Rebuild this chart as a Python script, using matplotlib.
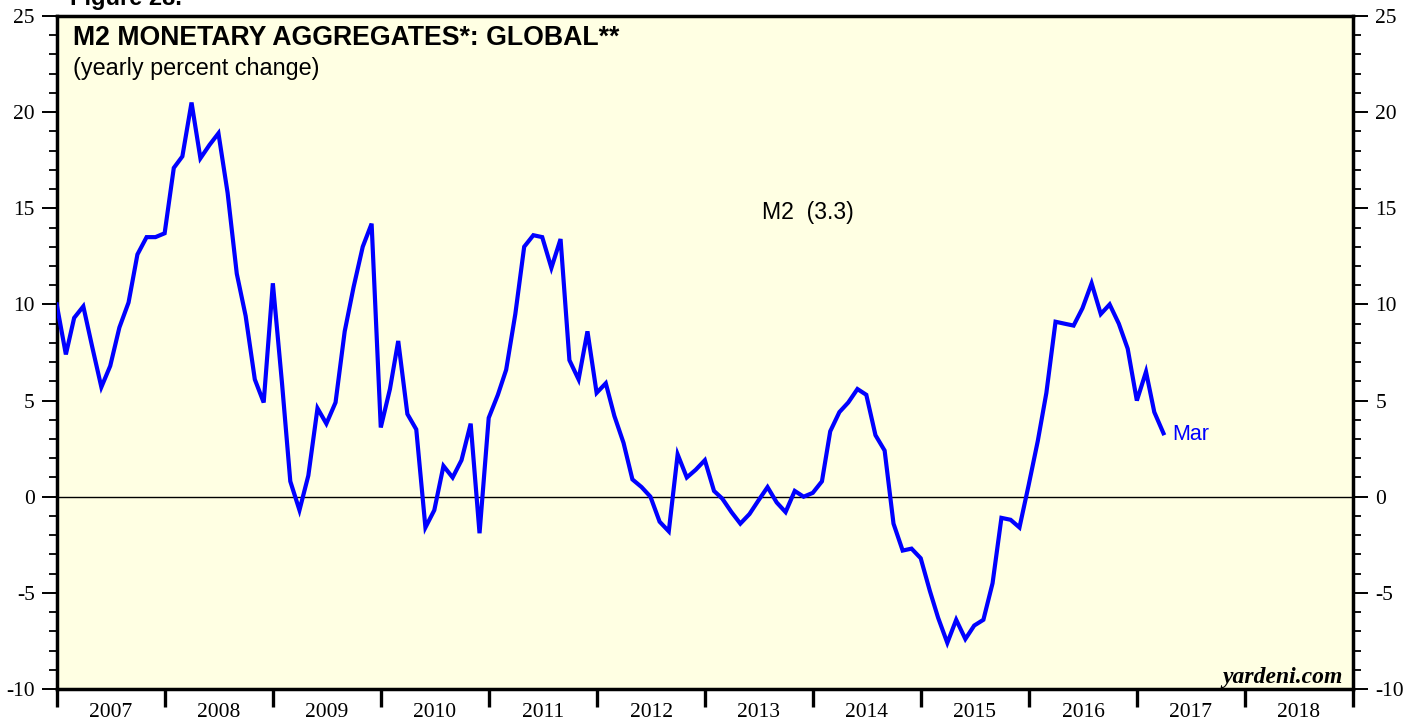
import matplotlib
matplotlib.use("Agg")
import matplotlib.pyplot as plt
import matplotlib.dates as mdates
from matplotlib.ticker import MultipleLocator, FixedLocator, NullFormatter
import pandas as pd
import datetime as dt

plt.rcParams["axes.unicode_minus"] = False

# Monthly M2 yearly percent change, Dec 2006 .. Mar 2017 (month-end)
m2_values = [
    10.0, 7.4, 9.3, 9.9, 7.8, 5.7, 6.8, 8.8, 10.1, 12.6, 13.5, 13.5,
    13.7, 17.1, 17.7, 20.5, 17.6, 18.3, 18.9, 15.8, 11.6, 9.4, 6.1, 4.9,
    11.1, 5.9, 0.8, -0.7, 1.1, 4.6, 3.8, 4.9, 8.6, 10.9, 13.0, 14.2,
    3.6, 5.6, 8.1, 4.3, 3.5, -1.6, -0.7, 1.6, 1.0, 1.9, 3.8, -1.9,
    4.1, 5.3, 6.6, 9.5, 13.0, 13.6, 13.5, 11.9, 13.4, 7.1, 6.1, 8.6,
    5.4, 5.9, 4.2, 2.8, 0.9, 0.5, 0.0, -1.3, -1.8, 2.2, 1.0, 1.4,
    1.9, 0.3, -0.1, -0.8, -1.4, -0.9, -0.2, 0.5, -0.3, -0.8, 0.3, 0.0,
    0.2, 0.8, 3.4, 4.4, 4.9, 5.6, 5.3, 3.2, 2.4, -1.4, -2.8, -2.7,
    -3.2, -4.9, -6.3, -7.6, -6.4, -7.4, -6.7, -6.4, -4.5, -1.1, -1.2, -1.6,
    0.6, 2.9, 5.4, 9.1, 9.0, 8.9, 9.8, 11.1, 9.5, 10.0, 9.0, 7.7,
    5.0, 6.5, 4.4, 3.3,
]
m2_dates = pd.date_range("2006-12-31", periods=len(m2_values), freq="ME")
year_labels = [str(y) for y in range(2007, 2019)]
title_text = "M2 MONETARY AGGREGATES*: GLOBAL**"
subtitle_text = "(yearly percent change)"
series_label = "M2  (3.3)"
last_label = "Mar"

W, H = 1419, 723
fig = plt.figure(figsize=(W / 100, H / 100), dpi=100)
fig.patch.set_facecolor("white")
ax = fig.add_axes([57 / W, 1 - 689 / H, (1353 - 57) / W, (689 - 16) / H])
ax.set_facecolor("#FFFFE3")

ax.plot(m2_dates, m2_values, color="#0000FF", lw=3.0, solid_joinstyle="miter", zorder=3)
ax.axhline(0, color="black", lw=1.0, zorder=2)

ax.set_xlim(dt.datetime(2007, 1, 1), dt.datetime(2019, 1, 1))
ax.set_ylim(-10, 25)

# y axis both sides
ax.yaxis.set_major_locator(MultipleLocator(5))
ax.yaxis.set_minor_locator(MultipleLocator(1))
ax.tick_params(axis="y", which="major", direction="out", length=11, width=1.4,
               left=True, right=True, labelleft=True, labelright=True,
               labelsize=15.5, pad=5)
ax.tick_params(axis="y", which="minor", direction="out", length=5.5, width=1.3,
               left=True, right=True)
for lab in ax.get_yticklabels():
    lab.set_fontfamily("Liberation Serif")

# x axis: year boundaries as ticks, labels centered
year_starts = [dt.datetime(y, 1, 1) for y in range(2007, 2020)]
year_mids = [dt.datetime(y, 7, 2) for y in range(2007, 2019)]
ax.xaxis.set_major_locator(FixedLocator(mdates.date2num(year_starts)))
ax.xaxis.set_major_formatter(NullFormatter())
ax.set_xticks(mdates.date2num(year_mids), labels=year_labels, minor=True)
ax.tick_params(axis="x", which="major", direction="out", length=13, width=2.4)
ax.tick_params(axis="x", which="minor", length=0, labelsize=15.5, pad=10)
for lab in ax.get_xticklabels(minor=True):
    lab.set_fontfamily("Liberation Serif")

for s in ax.spines.values():
    s.set_linewidth(2.5)
    s.set_color("black")

# texts
fig.text(73 / W, 1 - 38 / H, title_text, fontsize=19.2, fontweight="bold",
         family="Liberation Sans", va="center", ha="left")
fig.text(73 / W, 1 - 69 / H, subtitle_text, fontsize=16.8, family="Liberation Sans",
         va="center", ha="left")
fig.text(70 / W, 1 - 5 / H, "Figure 28.", fontsize=17, fontweight="bold",
         family="Liberation Sans", va="baseline", ha="left")
fig.text(762 / W, 1 - 212 / H, series_label, fontsize=16.6, family="Liberation Sans",
         va="center", ha="left")
ax.annotate(last_label, xy=(m2_dates[-1], m2_values[-1]), xytext=(6, -1),
            textcoords="offset points", color="#0000FF", fontsize=15.5,
            family="Liberation Sans", va="center", ha="left")
fig.text(1343 / W, 1 - 677 / H, "yardeni.com", fontsize=17, family="Liberation Serif",
         style="italic", fontweight="bold", va="center", ha="right")

fig.savefig("out.png", dpi=100, facecolor="white")
